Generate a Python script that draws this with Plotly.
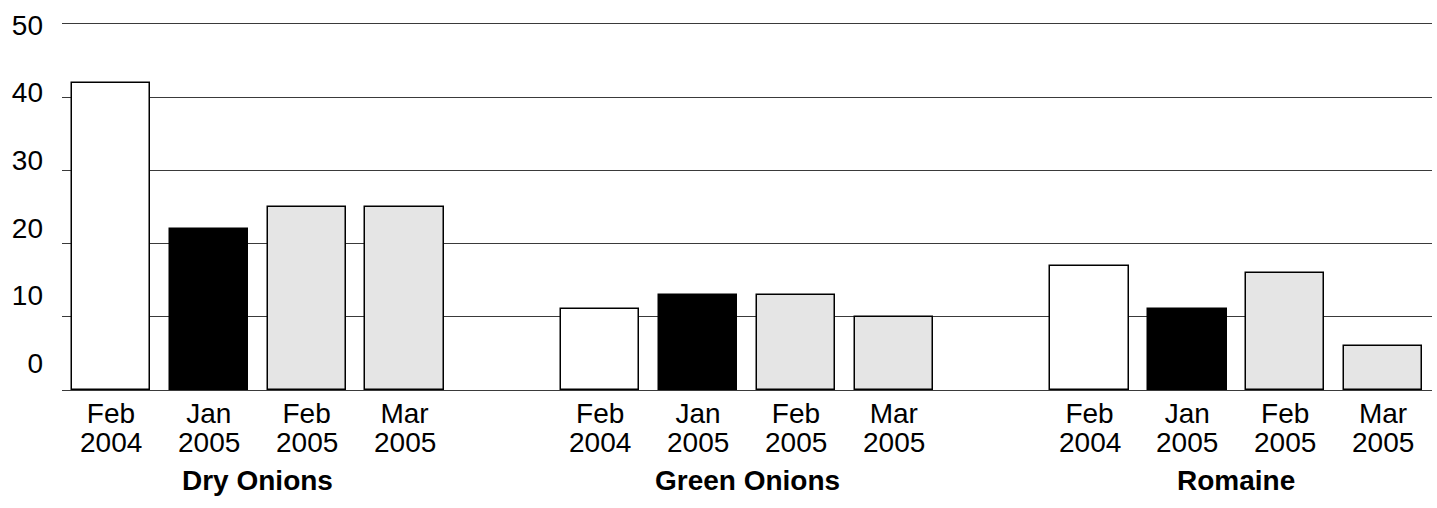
import plotly.graph_objects as go

groups = ["Dry Onions", "Green Onions", "Romaine"]
months = ["Feb", "Jan", "Feb", "Mar"]
years = ["2004", "2005", "2005", "2005"]
dry_onions = [42, 22, 25, 25]
green_onions = [11, 13, 13, 10]
romaine = [17, 11, 16, 6]
period_colors = ["#ffffff", "#000000", "#e5e5e5", "#e5e5e5"]
y_ticks = [0, 10, 20, 30, 40, 50]

series = [dry_onions, green_onions, romaine]
FONT = "Liberation Sans, Arial, sans-serif"
FS = 28

xs, ys, cols, tickvals, ticktext = [], [], [], [], []
for gi, vals in enumerate(series):
    for pi, v in enumerate(vals):
        pos = gi * 5 + pi
        xs.append(pos)
        ys.append(v)
        cols.append(period_colors[pi])
        tickvals.append(pos)
        ticktext.append(months[pi])

fig = go.Figure()
fig.add_trace(go.Bar(x=xs, y=ys, width=0.8,
                     marker=dict(color=cols, line=dict(color="#000000", width=1.5)),
                     showlegend=False, hoverinfo="skip"))
# invisible trace for the label axis
fig.add_trace(go.Scatter(x=[0], y=[0], yaxis="y2", mode="markers",
                         marker=dict(opacity=0), showlegend=False, hoverinfo="skip"))

annotations = []
for gi, g in enumerate(groups):
    for pi in range(4):
        pos = gi * 5 + pi
        annotations.append(dict(x=pos, y=0, xref="x", yref="paper", text=years[pi],
                                showarrow=False, yanchor="middle", yshift=-52,
                                font=dict(family=FONT, size=FS, color="#000")))
    annotations.append(dict(x=gi * 5 + 1.5, y=0, xref="x", yref="paper",
                            text="<b>" + g + "</b>", showarrow=False, yanchor="middle",
                            yshift=-90, font=dict(family=FONT, size=FS, color="#000")))

fig.update_layout(
    width=1437, height=508,
    margin=dict(l=62, r=5, t=21, b=118),
    plot_bgcolor="#ffffff", paper_bgcolor="#ffffff",
    bargap=0,
    font=dict(family=FONT, size=FS, color="#000"),
    xaxis=dict(range=[-0.5, 13.5], tickmode="array", tickvals=tickvals, ticktext=ticktext,
               showgrid=False, zeroline=False, showline=False, ticks="",
               ticklabelstandoff=4, automargin=False,
               tickfont=dict(family=FONT, size=FS, color="#000")),
    yaxis=dict(range=[0, 50.4], tickvals=y_ticks, showticklabels=False,
               showgrid=True, gridcolor="#3a3a3a", gridwidth=1, automargin=False,
               zeroline=True, zerolinecolor="#3a3a3a", zerolinewidth=1, showline=False),
    yaxis2=dict(overlaying="y", side="left", range=[-4.0, 50.6], tickvals=y_ticks,
                showgrid=False, zeroline=False, showline=False, ticks="",
                ticklabelstandoff=18, automargin=False,
                tickfont=dict(family=FONT, size=FS, color="#000")),
    annotations=annotations,
)
fig.write_html("out.html", config={"displayModeBar": False},
               post_script="document.body.style.margin='0';document.body.style.overflow='hidden';")
